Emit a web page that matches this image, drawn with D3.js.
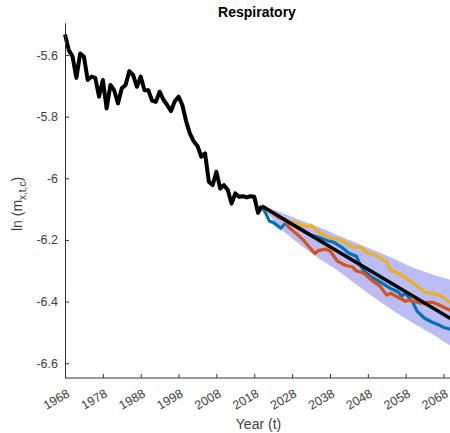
<!DOCTYPE html>
<html>
<head>
<meta charset="utf-8">
<script src="https://cdn.jsdelivr.net/npm/d3@7"></script>
<style>
  body { margin: 0; background: #fff; }
  svg text { font-family: "Liberation Sans", Arial, sans-serif; }
</style>
</head>
<body>
<div id="chart"></div>
<script>
// observed log death rates, 1968-2020
const histYears = d3.range(1968, 2021);
const histValues = [-5.533, -5.584, -5.605, -5.674, -5.595, -5.605, -5.681, -5.670, -5.674, -5.735,
    -5.681, -5.773, -5.697, -5.715, -5.757, -5.708, -5.697, -5.652, -5.665, -5.703,
    -5.670, -5.714, -5.714, -5.748, -5.752, -5.719, -5.745, -5.762, -5.782, -5.750,
    -5.735, -5.762, -5.815, -5.855, -5.880, -5.895, -5.930, -5.919, -6.011, -6.022,
    -5.979, -6.033, -6.022, -6.038, -6.082, -6.049, -6.060, -6.058, -6.062, -6.058,
    -6.060, -6.112, -6.090];

// median forecast
const medYears = [2020, 2030, 2040, 2050, 2060, 2070];
const medValues = [-6.090, -6.164, -6.237, -6.310, -6.383, -6.456];

// prediction interval
const bandYears = [2020, 2025, 2030, 2035, 2040, 2045, 2050, 2055, 2060, 2065, 2070];
const bandUpper = [-6.090, -6.110, -6.135, -6.158, -6.185, -6.210, -6.235, -6.262, -6.290, -6.312, -6.330];
const bandLower = [-6.090, -6.165, -6.215, -6.259, -6.298, -6.345, -6.390, -6.432, -6.470, -6.505, -6.545];

// sample paths
const blueYears = [2020, 2021, 2022, 2023, 2025, 2026, 2028, 2030, 2033, 2035, 2037, 2039, 2041, 2043, 2045, 2046,
    2047, 2049, 2051, 2053, 2054, 2056, 2057, 2058, 2060, 2061, 2063, 2065, 2067, 2068, 2070];
const blueValues = [-6.090, -6.113, -6.139, -6.143, -6.162, -6.149, -6.145, -6.162, -6.184, -6.191, -6.201, -6.207,
    -6.223, -6.243, -6.253, -6.282, -6.301, -6.321, -6.334, -6.350, -6.357, -6.369, -6.382, -6.373, -6.405,
    -6.431, -6.454, -6.467, -6.477, -6.484, -6.490];

const orangeYears = [2020, 2022, 2024, 2026, 2027, 2029, 2031, 2034, 2035, 2037, 2038, 2040, 2042, 2044, 2045,
    2047, 2049, 2051, 2053, 2054, 2056, 2058, 2059, 2062, 2065, 2067, 2070];
const orangeValues = [-6.090, -6.103, -6.123, -6.136, -6.158, -6.178, -6.201, -6.244, -6.234, -6.230, -6.236,
    -6.269, -6.282, -6.288, -6.301, -6.308, -6.331, -6.347, -6.379, -6.373, -6.386, -6.399, -6.395, -6.405,
    -6.402, -6.412, -6.430];

const yellowYears = [2020, 2023, 2026, 2029, 2032, 2033, 2035, 2038, 2041, 2044, 2046, 2048, 2050, 2053, 2054,
    2056, 2059, 2063, 2066, 2067, 2070];
const yellowValues = [-6.090, -6.113, -6.136, -6.145, -6.158, -6.152, -6.175, -6.194, -6.201, -6.223, -6.223,
    -6.243, -6.249, -6.272, -6.298, -6.308, -6.331, -6.369, -6.376, -6.379, -6.405];

const xTicks = [1968, 1978, 1988, 1998, 2008, 2018, 2028, 2038, 2048, 2058, 2068];
const yTicks = [-5.6, -5.8, -6, -6.2, -6.4, -6.6];

document.addEventListener("DOMContentLoaded", drawChart);

function drawChart() {
    const width = 450,
        height = 433,
        left = 65,
        top = 22.7,
        bottom = 378;

    const svg = d3.select("#chart").append("svg")
        .attr("width", width)
        .attr("height", height);

    const x = d3.scaleLinear().domain([1968, 2070]).range([left, 451.1]);
    const y = d3.scaleLinear().domain([-6.648, -5.495]).range([bottom, top]);

    const zip = (xs, vs) => xs.map((d, i) => [d, vs[i]]);

    const line = d3.line()
        .x(d => x(d[0]))
        .y(d => y(d[1]));

    const area = d3.area()
        .x(d => x(d[0]))
        .y0(d => y(d[1]))
        .y1(d => y(d[2]));

    // band
    svg.append("path")
        .datum(bandYears.map((d, i) => [d, bandLower[i], bandUpper[i]]))
        .attr("d", area)
        .attr("fill", "#bcbcf4");

    const paths = [
        [blueYears, blueValues, "#0072BD"],
        [orangeYears, orangeValues, "#D95319"],
        [yellowYears, yellowValues, "#EDB120"]
    ];
    paths.forEach(p => {
        svg.append("path")
            .datum(zip(p[0], p[1]))
            .attr("d", line)
            .attr("fill", "none")
            .attr("stroke", p[2])
            .attr("stroke-width", 3.2)
            .attr("stroke-linejoin", "round");
    });

    svg.append("path")
        .datum(zip(medYears, medValues))
        .attr("d", line)
        .attr("fill", "none")
        .attr("stroke", "#000")
        .attr("stroke-width", 3.5);

    svg.append("path")
        .datum(zip(histYears, histValues))
        .attr("d", line)
        .attr("fill", "none")
        .attr("stroke", "#000")
        .attr("stroke-width", 4)
        .attr("stroke-linejoin", "round");

    // axes
    const xAxis = svg.append("g")
        .attr("transform", "translate(0," + bottom + ")")
        .call(d3.axisBottom(x).tickValues(xTicks).tickSizeInner(-4).tickSizeOuter(0).tickFormat(d3.format("d")));
    xAxis.select(".domain").attr("d", "M" + left + ",0H" + width);
    xAxis.selectAll("text")
        .attr("text-anchor", "end")
        .attr("dy", null)
        .attr("y", null)
        .attr("transform", "translate(5,18) rotate(-30)");

    const yAxis = svg.append("g")
        .attr("transform", "translate(" + left + ",0)")
        .call(d3.axisLeft(y).tickValues(yTicks).tickSizeInner(-4).tickSizeOuter(0).tickFormat(d => d));
    yAxis.selectAll("text").attr("x", -7);

    svg.selectAll(".domain, .tick line").attr("stroke", "#333").attr("stroke-width", 1);
    svg.selectAll(".tick text")
        .attr("fill", "#404040")
        .style("font-size", "12.5px")
        .style("font-family", "'Liberation Sans', Arial, sans-serif");

    // title and labels
    svg.append("text")
        .attr("x", 257)
        .attr("y", 17)
        .attr("text-anchor", "middle")
        .style("font-size", "14px")
        .style("font-weight", "bold")
        .attr("fill", "#000")
        .text("Respiratory");

    svg.append("text")
        .attr("x", 258.5)
        .attr("y", 429)
        .attr("text-anchor", "middle")
        .style("font-size", "14px")
        .attr("fill", "#404040")
        .text("Year (t)");

    const yl = svg.append("text")
        .attr("transform", "translate(22,204) rotate(-90)")
        .attr("text-anchor", "middle")
        .style("font-size", "14px")
        .attr("fill", "#404040");
    yl.append("tspan").text("ln (m");
    yl.append("tspan").attr("dy", 4).style("font-size", "10px").text("x,t,c");
    yl.append("tspan").attr("dy", -4).text(")");
}
</script>
</body>
</html>
